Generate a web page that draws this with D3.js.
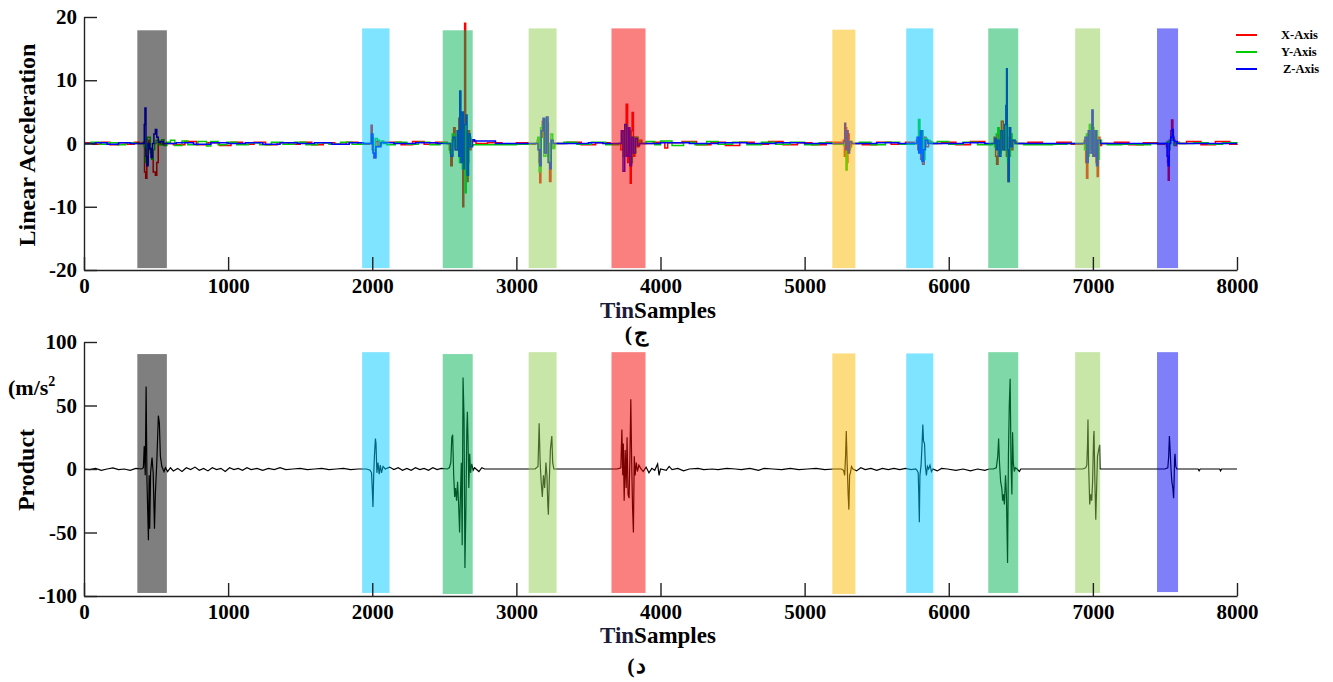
<!DOCTYPE html>
<html>
<head>
<meta charset="utf-8">
<script src="https://cdnjs.cloudflare.com/ajax/libs/d3/7.8.5/d3.min.js"></script>
<style>
  body { margin: 0; background: #fff; }
  text { font-family: "Liberation Serif", "Times New Roman", serif; font-weight: bold; }
</style>
</head>
<body>
<div id="grafico"></div>
<script>
// ---- data ----
const sampleTicks = [0, 1000, 2000, 3000, 4000, 5000, 6000, 7000, 8000];
const accTicks    = [-20, -10, 0, 10, 20];
const prodTicks   = [-100, -50, 0, 50, 100];

// marked gesture windows (sample ranges)
const bandStart = [370, 1930, 2489, 3085, 3660, 5192, 5705, 6274, 6877, 7445];
const bandEnd   = [575, 2120, 2697, 3279, 3896, 5352, 5893, 6482, 7050, 7591];
const bandColor = ["#000000", "#00caff", "#00b151", "#91cd51", "#f50000",
                   "#fbb900", "#00caff", "#00b151", "#91cd51", "#0000f5"];
const accBandTop    = [17.9, 18.2, 17.9, 18.2, 18.2, 18.0, 18.2, 18.2, 18.2, 18.2];
const accBandBottom = -19.7;
const prodBandTop    = [90.5, 92, 90.5, 92, 92, 91, 91, 92, 92, 92];
const prodBandBottom = [-97.6, -97.6, -98.4, -97.6, -97.6, -98.4, -97.6, -97.6, -97.6, -96.9];

const legendNames  = ["X-Axis", "Y-Axis", "Z-Axis"];
const legendColors = ["#ff0000", "#00cc00", "#0000ff"];

const accX = [
  [0,0.1],[60,-0.1],[120,0.2],[180,-0.2],[240,0.1],[300,-0.1],[350,0.2],
  [380,0],[410,0.2],[420,-4.5],[428,-5.5],[436,-3],[445,0.5],[455,-1],[470,-1.5],[480,-4.5],[495,-5],[505,-3],[515,0],[530,0.3],[545,-0.2],[560,0],
  [620,-0.2],[700,0.3],[780,-0.2],[860,0.1],[940,-0.3],[1020,0.2],[1100,-0.1],[1180,0.2],[1260,-0.2],[1340,0.1],[1420,-0.1],[1500,0.2],[1580,-0.2],[1660,0.1],[1740,-0.1],[1820,0.2],[1900,-0.1],
  [1980,0],[1992,2.9],[2000,-1],[2010,-2.3],[2025,0.3],[2040,-0.3],[2060,0.2],
  [2120,0.2],[2200,-0.2],[2280,0.3],[2360,-0.1],[2440,0.2],
  [2520,0],[2535,-1],[2545,-3.5],[2555,0.5],[2565,2.5],[2575,-1],[2590,1],[2600,4],[2610,-2],[2620,3],[2628,-10],[2635,2],[2641,19],[2648,-4],[2655,-6],[2665,2],[2675,-1],[2685,0.5],[2700,0.3],[2720,0],
  [2800,0.1],[2900,-0.1],[3000,0.1],[3080,-0.1],
  [3130,0],[3145,0.5],[3155,-3],[3162,-6.2],[3170,1],[3180,3.5],[3190,-1],[3200,2],[3210,3.2],[3222,-2],[3230,-6],[3240,0.5],[3250,-0.5],[3265,0],
  [3350,0.2],[3450,-0.2],[3550,0.1],[3650,-0.1],
  [3710,0],[3725,-1],[3738,2],[3750,-2],[3762,6.2],[3772,-3],[3782,1],[3790,-6.3],[3797,2],[3803,4.9],[3812,-2],[3822,1],[3835,-0.5],[3850,0.5],[3870,0],
  [3950,0.2],[4030,-0.7],[4050,0.1],[4150,0.3],[4250,-0.2],[4350,0.2],[4450,-0.3],[4550,0.2],[4650,-0.1],[4750,0.3],[4850,-0.2],[4950,0.1],[5050,-0.2],[5150,0.2],
  [5255,0],[5268,0.5],[5276,-2],[5284,2.5],[5292,-3],[5300,1.5],[5310,-0.5],[5325,0],
  [5400,-0.2],[5500,0.2],[5600,-0.1],[5700,0.2],
  [5760,0],[5775,0.5],[5785,-1],[5795,1.5],[5805,-2.5],[5818,-3.3],[5830,1],[5842,-0.5],[5860,0.3],[5880,0],
  [5950,0.2],[6050,-0.2],[6150,0.3],[6250,-0.1],
  [6300,0],[6315,1],[6325,-2],[6332,-3.3],[6342,2],[6352,-1],[6365,3.5],[6378,-1],[6390,1.5],[6400,-2],[6410,-6],[6420,1],[6432,-1],[6445,0.3],[6470,0],
  [6550,0.2],[6650,-0.1],[6750,0.2],[6850,-0.1],
  [6925,0],[6940,0.5],[6950,-3],[6956,-5.5],[6965,1.5],[6978,-1],[6990,3],[7000,-2],[7012,1],[7022,-3],[7030,-5.2],[7038,1],[7048,-0.3],[7060,0],
  [7150,0.2],[7250,-0.2],[7350,0.1],[7450,-0.1],
  [7495,0],[7510,-0.5],[7518,-3],[7523,-5.8],[7530,0.5],[7540,2],[7546,3.7],[7555,1],[7565,-0.3],[7580,0.2],[7600,0],
  [7650,0.3],[7750,-0.2],[7850,0.3],[7950,-0.1],[8000,0]
];

const accY = [
  [0,0],[50,0.2],[110,-0.1],[170,0.1],[230,-0.2],[290,0.1],[350,0],
  [400,0],[418,-0.5],[425,-3],[432,-1],[440,1],[450,1],[460,-1.5],[470,-2.5],[480,-1],[490,0],[500,0.5],[520,-0.2],[540,0.6],[555,-0.3],[575,0.2],
  [600,0.5],[630,-0.3],[680,0.4],[720,-0.2],[790,0.3],[850,-0.4],[880,0.3],[930,-0.2],[990,0.2],[1060,-0.2],[1140,0.1],[1220,-0.2],[1300,0.2],[1380,-0.1],[1460,0.2],[1540,-0.2],[1620,0.1],[1700,-0.1],[1780,0.2],[1860,-0.1],[1940,0],
  [1985,0],[1995,1],[2005,-1],[2020,0.8],[2035,0.5],[2050,-0.2],[2065,0.4],[2080,0],
  [2100,-0.2],[2160,0.2],[2240,-0.1],[2320,0.2],[2400,-0.2],[2470,0.1],
  [2520,0],[2540,-1.5],[2555,1.5],[2570,-0.5],[2590,2],[2605,-3],[2615,4],[2625,-4],[2635,3],[2645,-7.8],[2652,2],[2660,-3],[2670,1],[2685,-0.3],[2700,-0.2],[2900,-0.2],[3000,-0.1],[3100,0],
  [3130,0],[3148,1],[3158,-4.5],[3168,2.5],[3180,3],[3190,-2],[3205,3.8],[3215,0],[3228,-3],[3240,1.5],[3252,-0.8],[3265,0],
  [3330,0.2],[3420,-0.1],[3520,0.2],[3620,-0.2],
  [3710,0],[3730,1.5],[3742,-2],[3755,3],[3768,-1],[3780,2],[3792,-3],[3805,1],[3818,-1.5],[3830,1],[3845,0.4],[3860,0],
  [3900,0.3],[3960,-0.2],[4000,0.4],[4080,-0.3],[4160,0.2],[4240,-0.2],[4320,0.3],[4400,-0.1],[4500,0.2],[4600,-0.2],[4700,0.2],[4800,-0.1],[4900,0.2],[5000,-0.2],[5100,0.1],[5200,-0.1],
  [5255,0],[5270,-0.3],[5280,1],[5287,-4.2],[5295,0.5],[5305,-1],[5318,0.3],[5330,0],
  [5380,0.2],[5460,-0.2],[5560,0.2],[5660,-0.1],
  [5760,0],[5778,0.5],[5790,3.8],[5800,-1],[5812,2],[5822,-2.5],[5835,0.8],[5850,0.5],[5870,0.2],[5890,0],
  [5920,0.3],[6000,-0.1],[6100,0.2],[6200,-0.2],
  [6300,0],[6318,-0.5],[6330,1.5],[6340,2.5],[6350,-1.5],[6362,1],[6375,2],[6388,-1],[6398,3],[6408,-3],[6418,-2],[6428,1.5],[6440,0.5],[6460,0],
  [6520,-0.2],[6620,-0.2],[6720,-0.1],[6820,0],
  [6925,0],[6942,-1],[6955,1.5],[6965,-2],[6975,3],[6985,-1],[6995,2.5],[7008,-1.5],[7020,2],[7032,-2.5],[7045,0.5],[7060,0],
  [7100,-0.2],[7200,-0.1],[7300,-0.2],[7400,0],
  [7500,0],[7515,0.3],[7525,-1],[7535,0.5],[7548,1.2],[7560,-0.2],[7575,0.1],[7600,0],
  [7700,0.1],[7800,-0.1],[7900,0.1],[8000,0]
];

const accZ = [
  [0,0],[80,0.1],[160,-0.1],[240,0.1],[320,0],
  [410,0],[418,3],[423,5.6],[430,-2],[436,-3.5],[445,0],[455,-0.8],[465,-2.2],[475,0],[485,1.5],[495,2.2],[505,1],[515,0.2],[530,0.3],[550,0],
  [640,0.1],[760,-0.1],[880,0.1],[1000,0],[1120,0.1],[1240,-0.1],[1360,0.1],[1480,0],[1600,0.1],[1720,-0.1],[1840,0.1],[1940,0],
  [1985,0],[1995,1.5],[2005,-1.5],[2015,-2.2],[2025,-0.5],[2040,-0.5],[2060,0.1],
  [2150,0],[2300,0.1],[2450,0],
  [2520,0],[2545,-2],[2560,1],[2575,-1],[2590,2],[2600,-2],[2607,8.3],[2615,-3],[2625,5],[2632,-4],[2640,3],[2650,4.5],[2658,-5],[2668,1.5],[2680,-0.5],[2695,0.6],[2710,0.4],[2850,0.4],[2855,0],
  [3000,0],
  [3130,0],[3150,-1],[3162,-3.5],[3172,2],[3185,4],[3195,-1.5],[3208,4.2],[3220,-3],[3232,-4],[3242,0.5],[3255,0],[3270,0],
  [3500,0.1],[3600,0],
  [3710,0],[3728,2],[3740,-4.4],[3752,3],[3765,-2],[3778,2.5],[3788,-3.5],[3800,1],[3812,-1.5],[3825,0.8],[3840,-0.3],[3855,0],
  [4000,0.1],[4200,0],[4400,0.1],[4600,0],[4800,0.1],[5000,0],
  [5255,0],[5270,0.3],[5278,3.2],[5285,-1],[5293,2],[5302,-1.5],[5312,0.3],[5325,0],
  [5500,0.1],[5650,0],
  [5760,0],[5780,1],[5792,-1.5],[5803,2],[5814,-2.8],[5825,-1],[5838,0.5],[5855,0],[5875,0],
  [6100,0.1],[6250,0],
  [6300,0],[6320,0.8],[6330,-1],[6338,0.5],[6350,-2],[6362,2],[6375,-1],[6388,3],[6396,6],[6401,11.8],[6406,-1],[6413,-6],[6420,2.5],[6430,-0.5],[6442,0.5],[6460,0],
  [6700,0],
  [6925,0],[6945,1],[6957,-3],[6968,2],[6980,-1.5],[6993,5.3],[7002,-2],[7014,2],[7025,-3.5],[7035,0.5],[7050,0],[7065,0],
  [7300,0],
  [7500,0],[7515,-2],[7522,-3.5],[7530,0],[7540,1],[7550,2.2],[7558,0.5],[7568,0.3],[7585,0],[7600,0],
  [8000,0]
];

const product = [
  [0,0],[40,-0.5],[80,0.5],[120,-1],[160,0],[200,0.8],[240,-0.5],[280,0],[320,-1],[360,0.5],
  [400,0],[412,1],[418,18],[425,-5],[431,65],[437,-10],[447,-56],[452,-5],[456,-47],[462,-3],[472,9],[480,-3],[489,-47],[495,-20],[505,5],[516,42],[523,36],[530,10],[540,2],[555,-2],[565,1],
  [580,-2],[600,1],[620,-1.5],[650,0.5],[680,-2],[710,1],[740,-0.5],[770,1.5],[800,-1],[830,0.5],[860,-1.5],[890,1],[920,-0.5],[950,0.5],[980,-2],[1010,1],[1040,-0.5],[1070,0.5],[1100,-1],[1130,1],[1160,-0.5],[1200,0.5],[1240,-1],[1280,0.5],[1320,-0.5],[1360,1],[1400,-0.5],[1450,0],[1500,0.5],[1550,-0.5],[1600,0],[1650,0.5],[1700,-0.5],[1750,0],[1800,0.5],[1850,-0.5],[1900,0],
  [1960,0],[1985,-1],[1995,-3],[2000,-15],[2005,-30],[2010,-5],[2015,10],[2022,24],[2026,20],[2032,-3],[2040,5],[2048,-4],[2056,3],[2064,-3],[2075,2],[2090,0],
  [2120,1.5],[2150,-0.5],[2180,1],[2210,-1],[2240,0.5],[2270,-1],[2300,1],[2330,-0.5],[2360,0.5],[2390,-1],[2420,1],[2450,-0.5],[2480,0.5],
  [2520,0],[2535,1],[2545,5],[2552,25],[2558,27],[2565,-5],[2572,-22],[2578,-15],[2585,-25],[2592,-10],[2600,-30],[2606,-50],[2612,-20],[2618,5],[2624,-60],[2630,72],[2637,40],[2643,-78],[2650,-30],[2656,30],[2660,45],[2665,20],[2670,-15],[2676,12],[2682,-3],[2690,4],[2700,-1],[2710,1],
  [2720,0],[2740,-2],[2760,1],[2780,0],
  [3130,0],[3150,2],[3158,36],[3165,5],[3172,-10],[3180,-22],[3188,-5],[3196,-15],[3205,5],[3212,-5],[3218,-28],[3222,-36],[3228,-10],[3236,15],[3242,22],[3246,26],[3252,5],[3260,0],
  [3700,0],[3725,1],[3732,31],[3738,-5],[3742,20],[3748,-25],[3755,15],[3762,-15],[3768,25],[3775,-20],[3782,-23],[3788,10],[3794,55],[3800,5],[3806,-30],[3812,-50],[3818,10],[3824,-5],[3832,5],[3840,-2],[3850,3],
  [3865,0],[3880,-2],[3900,1.5],[3920,-3],[3940,0.5],[3960,-1],[3980,4],[3990,-5],[4000,0],[4040,-1],[4060,2],[4080,-0.5],[4120,0.5],[4160,-1.5],[4200,0],[4260,0.5],[4300,-0.5],[4360,0],[4400,-0.5],[4460,0.5],[4520,0],[4560,-0.5],[4620,0.5],[4680,-1],[4720,0.5],[4780,0],[4840,-0.5],[4900,0.5],[4960,-0.5],[5020,0],[5080,0.5],[5140,-0.5],[5200,0],
  [5255,0],[5270,-1],[5278,-5],[5284,10],[5289,30],[5295,5],[5302,-20],[5307,-32],[5312,-5],[5318,-3],[5325,2],
  [5335,0],[5360,-1.5],[5390,1],[5420,-0.5],[5460,0.5],[5500,-1],[5540,0.5],[5580,-0.5],[5620,0.5],[5660,-0.5],[5700,0.5],[5740,-0.5],
  [5770,0],[5780,-1],[5788,-3],[5792,-20],[5796,-42],[5800,-5],[5808,3],[5815,20],[5820,35],[5825,22],[5832,20],[5838,2],[5845,-5],[5852,2],[5860,0],[5870,3],[5880,-2],
  [5890,0],[5920,-1.5],[5950,0.5],[5990,0],[6050,-1],[6100,0],[6150,-1.5],[6200,0],[6250,-1],[6280,0],
  [6310,0],[6330,1],[6340,10],[6346,24],[6352,5],[6360,-10],[6368,-15],[6374,-25],[6380,-20],[6386,-28],[6394,-5],[6400,-20],[6408,-74],[6414,10],[6420,50],[6426,71],[6432,5],[6438,-20],[6443,29],[6448,5],[6455,-2],[6462,1],
  [6475,0],[6490,-2],[6500,0],
  [6930,0],[6950,1],[6958,3],[6963,20],[6966,39],[6970,5],[6975,-15],[6978,-28],[6985,-20],[6992,-25],[6998,-10],[7005,25],[7008,30],[7014,-10],[7020,-40],[7026,-15],[7032,10],[7040,15],[7047,19],[7050,0],
  [7500,0],[7520,1],[7526,10],[7531,26],[7536,15],[7542,0],[7548,-10],[7555,-15],[7560,-23],[7563,-12],[7567,8],[7570,12],[7575,2],[7582,0],
  [7600,0],[7730,0],[7737,-1.5],[7745,0],[7880,0],[7886,-1.5],[7893,0],[8000,0]
];

// ---- layout ----
const width  = 1333;
const height = 682;

const svg = d3.select("#grafico")
              .append("svg")
              .attr("width", width)
              .attr("height", height);

const xScale = d3.scaleLinear().domain([0, 8000]).range([84, 1237]);

const yAcc  = d3.scaleLinear().domain([-20, 20]).range([270, 17]);
const yProd = d3.scaleLinear().domain([-100, 100]).range([596, 342]);

function drawAxes(yScale, yTicks, y0) {
    const gx = svg.append("g")
       .attr("transform", `translate(0, ${y0})`)
       .call(d3.axisBottom(xScale).tickValues(sampleTicks)
                .tickSizeInner(-13).tickSizeOuter(0).tickPadding(8)
                .tickFormat(d => String(d)));
    const gy = svg.append("g")
       .attr("transform", `translate(${xScale(0)}, 0)`)
       .call(d3.axisLeft(yScale).tickValues(yTicks)
                .tickSizeInner(-13).tickSizeOuter(0).tickPadding(7)
                .tickFormat(d => String(d)));
    [gx, gy].forEach(g => {
        g.attr("font-family", null).attr("font-size", null);
        g.selectAll("path, line").attr("stroke", "#222").attr("stroke-width", 1.4);
        g.selectAll("text").attr("fill", "#000").style("font-size", "21px");
    });
}

function drawBands(yScale, tops, bottoms) {
    svg.append("g")
       .selectAll("rect")
       .data(bandStart)
       .join("rect")
       .attr("x", (d, i) => xScale(d))
       .attr("width", (d, i) => xScale(bandEnd[i]) - xScale(d))
       .attr("y", (d, i) => yScale(tops[i]))
       .attr("height", (d, i) => yScale(Array.isArray(bottoms) ? bottoms[i] : bottoms) - yScale(tops[i]))
       .attr("fill", (d, i) => bandColor[i])
       .attr("fill-opacity", 0.5);
}

function lineFor(yScale, curve) {
    return d3.line()
             .x(d => xScale(d[0]))
             .y(d => yScale(d[1]))
             .curve(curve);
}

// ---- top panel: linear acceleration ----
[accX, accY, accZ].forEach((series, i) => {
    svg.append("path")
       .datum(series)
       .attr("fill", "none")
       .attr("stroke", legendColors[i])
       .attr("stroke-width", 1.5)
       .attr("d", lineFor(yAcc, d3.curveStepAfter));
});
drawBands(yAcc, accBandTop, accBandBottom);
drawAxes(yAcc, accTicks, 270);

// ---- bottom panel: product ----
svg.append("path")
   .datum(product)
   .attr("fill", "none")
   .attr("stroke", "#000")
   .attr("stroke-width", 1.2)
   .attr("d", lineFor(yProd, d3.curveLinear));
drawBands(yProd, prodBandTop, prodBandBottom);
drawAxes(yProd, prodTicks, 596);

// ---- legend ----
const legend = svg.append("g");
legendNames.forEach((name, i) => {
    legend.append("line")
          .attr("x1", 1236).attr("x2", 1257)
          .attr("y1", 35 + i * 17).attr("y2", 35 + i * 17)
          .attr("stroke", legendColors[i])
          .attr("stroke-width", 2);
    legend.append("text")
          .attr("x", 1281 + (i === 2 ? 2 : 0))
          .attr("y", 35 + i * 17)
          .attr("dy", "0.35em")
          .attr("font-size", "12.5px")
          .text(name);
});

// ---- axis titles ----
svg.append("text")
   .attr("transform", "translate(35, 145) rotate(-90)")
   .attr("text-anchor", "middle")
   .attr("font-size", "24px")
   .text("Linear Acceleration");

svg.append("text")
   .attr("transform", "translate(34, 470) rotate(-90)")
   .attr("text-anchor", "middle")
   .attr("font-size", "24px")
   .text("Product");

svg.append("text")
   .attr("x", 8)
   .attr("y", 395)
   .attr("font-size", "22px")
   .text("(m/s")
   .append("tspan")
   .attr("font-size", "14px")
   .attr("dy", "-9")
   .text("2");

[318, 643].forEach(y => {
    const t = svg.append("text")
       .attr("x", 600)
       .attr("y", y)
       .attr("font-size", "23px");
    t.append("tspan").attr("fill", "#1c1c3a").text("Tin");
    t.append("tspan").attr("fill", "#000").text("Samples");
});

// panel captions: paren and letter centred separately (anchor "middle" ignores bidi)
[[341, "ج", 628.5, 641], [673, "د", 631, 641]].forEach(([y, letter, xp, xl]) => {
    svg.append("text")
       .attr("x", xp).attr("y", y)
       .attr("text-anchor", "middle")
       .attr("font-size", "22px")
       .text("(");
    svg.append("text")
       .attr("x", xl).attr("y", y)
       .attr("text-anchor", "middle")
       .attr("font-size", "22px")
       .text(letter);
});
</script>
</body>
</html>
